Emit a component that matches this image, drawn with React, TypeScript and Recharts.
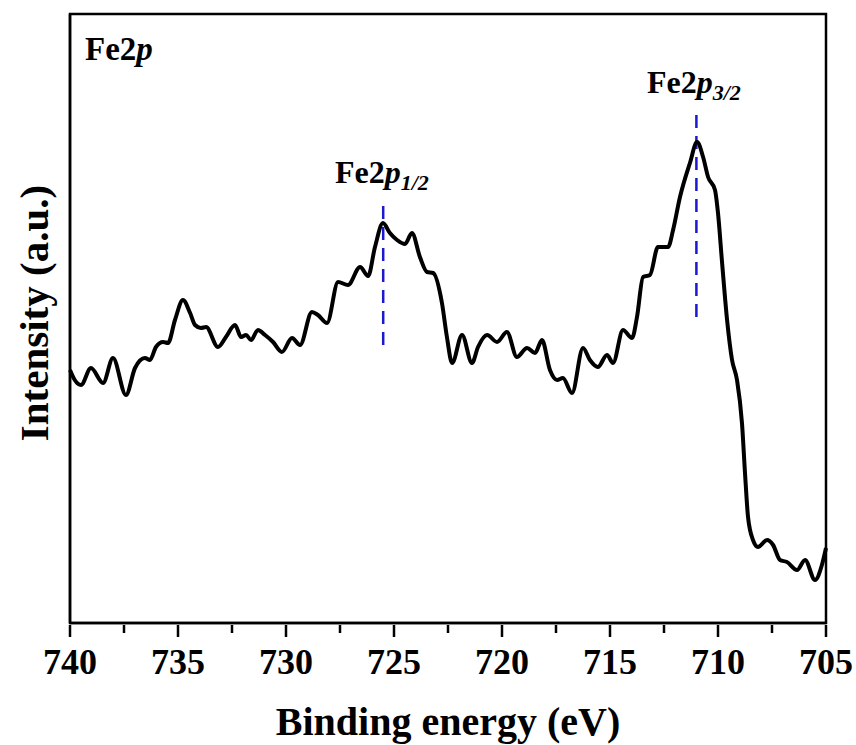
import React from 'react';
import { LineChart, Line, XAxis, YAxis, ReferenceLine, ReferenceArea } from 'recharts';

// Binding energy (eV) and intensity (a.u.)
const energy = [
  740.0, 739.78, 739.49, 739.03, 738.47, 738.01, 737.41, 736.99, 736.53, 736.3,
  736.02, 735.69, 735.46, 735.14, 734.77, 734.44, 734.21, 733.94, 733.7, 733.15,
  732.78, 732.36, 732.08, 731.85, 731.62, 731.3, 730.97, 730.6, 730.19, 729.72,
  729.35, 728.8, 728.52, 728.1, 727.59, 727.13, 726.57, 726.2, 725.88, 725.51,
  725.19, 724.86, 724.49, 724.17, 723.8, 723.47, 723.19, 722.78, 722.55, 722.31,
  721.85, 721.39, 721.11, 720.69, 720.23, 719.77, 719.31, 718.84, 718.47, 718.15,
  717.78, 717.45, 717.18, 716.76, 716.25, 715.93, 715.56, 715.14, 714.86, 714.4,
  713.98, 713.75, 713.47, 713.15, 712.78, 712.31, 712.08, 711.76, 711.3, 710.97,
  710.69, 710.46, 710.14, 710.0, 709.81, 709.58, 709.35, 709.12, 708.89, 708.75,
  708.61, 708.38, 708.15, 707.73, 707.45, 707.13, 706.81, 706.34, 705.97, 705.51,
  705.19, 705.0,
];
const intensity = [
  253, 243, 238, 255, 240, 265, 228, 255, 265, 263,
  276, 281, 280, 303, 323, 310, 298, 295, 296, 276,
  286, 298, 286, 288, 283, 293, 288, 281, 271, 285,
  278, 311, 308, 300, 341, 338, 356, 347, 376, 400,
  390, 383, 379, 390, 366, 351, 350, 320, 286, 260,
  288, 260, 276, 288, 281, 291, 266, 275, 270, 283,
  253, 243, 245, 230, 275, 263, 256, 268, 260, 293,
  285, 306, 346, 348, 376, 376, 393, 426, 460, 481,
  466, 446, 433, 410, 360, 303, 263, 243, 200, 150,
  106, 83, 76, 83, 78, 63, 61, 53, 63, 43,
  58, 75,
];

const xTicks = [740, 737.5, 735, 732.5, 730, 727.5, 725, 722.5, 720, 717.5, 715, 712.5, 710, 707.5, 705];
const peakPositions = [725.5, 711.0];
const peakLineRanges = [[278, 418], [306, 508]];

const data = energy.map((e, i) => ({ energy: e, intensity: intensity[i] }));

const FONT = 'Liberation Serif';

const renderTick = (props: any) => {
  const { x, y, payload } = props;
  const major = payload.value % 5 === 0;
  return (
    <g key={payload.value}>
      <line x1={x} x2={x} y1={y} y2={y + (major ? 12 : 8)} stroke="#000" strokeWidth={2.5} />
      {major && (
        <text
          x={x}
          y={y + 49}
          textAnchor="middle"
          style={{ fontFamily: 'Liberation Serif, serif', fontWeight: 700, fontSize: '36px' }}
          fill="#000"
        >
          {String(payload.value)}
        </text>
      )}
    </g>
  );
};

export default function App() {
  return (
    <div style={{ position: 'absolute', left: 0, top: 0, width: 856, height: 745, background: '#fff', fontFamily: FONT }}>
      <LineChart width={856} height={745} data={data} margin={{ top: 14, right: 30, bottom: 0, left: 0 }}>
        <XAxis
          dataKey="energy"
          type="number"
          domain={[705, 740]}
          reversed
          ticks={xTicks}
          interval={0}
          height={122}
          tickSize={0}
          tickLine={false}
          tick={renderTick}
          axisLine={{ stroke: '#000', strokeWidth: 2.5 }}
        />
        <YAxis
          type="number"
          domain={[0, 609]}
          width={70}
          tick={false}
          tickLine={false}
          axisLine={{ stroke: '#000', strokeWidth: 2.5 }}
        />
        <ReferenceArea x1={740} x2={705} y1={0} y2={609} fill="none" stroke="#000" strokeWidth={2.5} />
        {peakPositions.map((p, i) => (
          <ReferenceLine
            key={p}
            segment={[{ x: p, y: peakLineRanges[i][0] }, { x: p, y: peakLineRanges[i][1] }]}
            stroke="#1a1acc"
            strokeWidth={2.5}
            strokeDasharray="13 8"
          />
        ))}
        <Line
          type="monotone"
          dataKey="intensity"
          stroke="#000"
          strokeWidth={4}
          dot={false}
          isAnimationActive={false}
        />
      </LineChart>
      <svg width={856} height={745} style={{ position: 'absolute', left: 0, top: 0, pointerEvents: 'none' }}>
        <g fontFamily={FONT} fontWeight="bold" fill="#000">
          <text x={85} y={60} fontSize={33}>
            Fe2<tspan fontStyle="italic">p</tspan>
          </text>
          <text x={335} y={183} fontSize={32}>
            Fe2<tspan fontStyle="italic">p</tspan>
            <tspan fontStyle="italic" fontSize={22} dy={7}>1/2</tspan>
          </text>
          <text x={647} y={93} fontSize={32}>
            Fe2<tspan fontStyle="italic">p</tspan>
            <tspan fontStyle="italic" fontSize={22} dy={7}>3/2</tspan>
          </text>
          <text x={448} y={735} fontSize={40} textAnchor="middle">
            Binding energy (eV)
          </text>
          <text x={48} y={313} fontSize={41} textAnchor="middle" transform="rotate(-90 48 313)">
            Intensity (a.u.)
          </text>
        </g>
      </svg>
    </div>
  );
}
